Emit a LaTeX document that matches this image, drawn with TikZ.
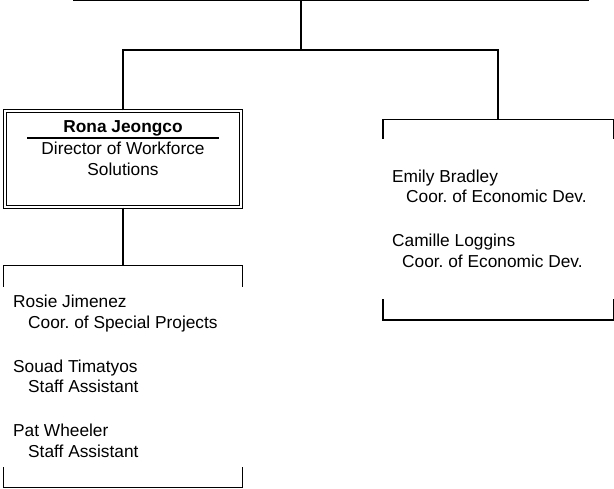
\documentclass[tikz,border=0pt]{standalone}
\usepackage{fontspec}
\setmainfont{Liberation Sans}
\frenchspacing
\begin{document}
\begin{tikzpicture}[x=1pt,y=-1pt]
\tikzstyle{wire}=[line width=1.4pt]
\tikzstyle{headBox}=[rectangle,draw,double,double distance=2pt,line width=1.1pt,minimum width=236pt,minimum height=96pt,inner sep=0pt]
\tikzstyle{grpBox}=[rectangle,inner sep=0pt]
\tikzstyle{headText}=[anchor=base,inner sep=0pt,font=\fontsize{17.3}{20}\selectfont]
\tikzstyle{person}=[anchor=base west,inner sep=0pt,font=\fontsize{17.3}{20}\selectfont]

\useasboundingbox (0,0) rectangle (614,489);

%top bar and split.
\coordinate (topLeft) at (73,0.5);
\coordinate (topRight) at (589,0.5);
\coordinate (topBar) at (301,0.5);
\coordinate (split) at (301,50);
\draw[wire] (topLeft) -- (topRight);
\draw[wire] (topBar) -- (split);

%director box.
\node[headBox] (rona) at (123,159) {};
\node[headText,font=\fontsize{17.3}{20}\selectfont\bfseries] (ronaName) at (123,133) {Rona Jeongco};
\node[headText] (ronaTitle) at (123,155) {Director of Workforce};
\node[headText] (ronaTitleB) at (123,176) {Solutions};
\draw[wire] (27,138) -- (219,138);

%groups.
\node[grpBox,minimum width=239pt,minimum height=221pt] (staffGrp) at (123,376.5) {};
\node[grpBox,minimum width=230pt,minimum height=200pt] (econGrp) at (498,220) {};

\draw[wire] ([yshift=-21pt]staffGrp.north west) -- (staffGrp.north west) -- (staffGrp.north east) -- ([yshift=-21pt]staffGrp.north east);
\draw[wire] ([yshift=20pt]staffGrp.south west) -- (staffGrp.south west) -- (staffGrp.south east) -- ([yshift=20pt]staffGrp.south east);
\draw[wire] ([yshift=-19pt]econGrp.north west) -- (econGrp.north west) -- (econGrp.north east) -- ([yshift=-19pt]econGrp.north east);
\draw[wire] ([yshift=21pt]econGrp.south west) -- (econGrp.south west) -- (econGrp.south east) -- ([yshift=21pt]econGrp.south east);

\draw[wire] (rona.north) |- (split) -| (econGrp.north);
\draw[wire] (rona.south) -- (staffGrp.north);

%people.
\node[person] (emily) at (392,183) {Emily Bradley};
\node[person] (emilyTitle) at (406,203) {Coor. of Economic Dev.};
\node[person] (camille) at (392,247) {Camille Loggins};
\node[person] (camilleTitle) at (402,268) {Coor. of Economic Dev.};

\node[person] (rosie) at (13,308) {Rosie Jimenez};
\node[person] (rosieTitle) at (28,329) {Coor. of Special Projects};
\node[person] (souad) at (13,373) {Souad Timatyos};
\node[person] (souadTitle) at (28,393) {Staff Assistant};
\node[person] (pat) at (13,437) {Pat Wheeler};
\node[person] (patTitle) at (28,457) {Staff Assistant};

\end{tikzpicture}
\end{document}
